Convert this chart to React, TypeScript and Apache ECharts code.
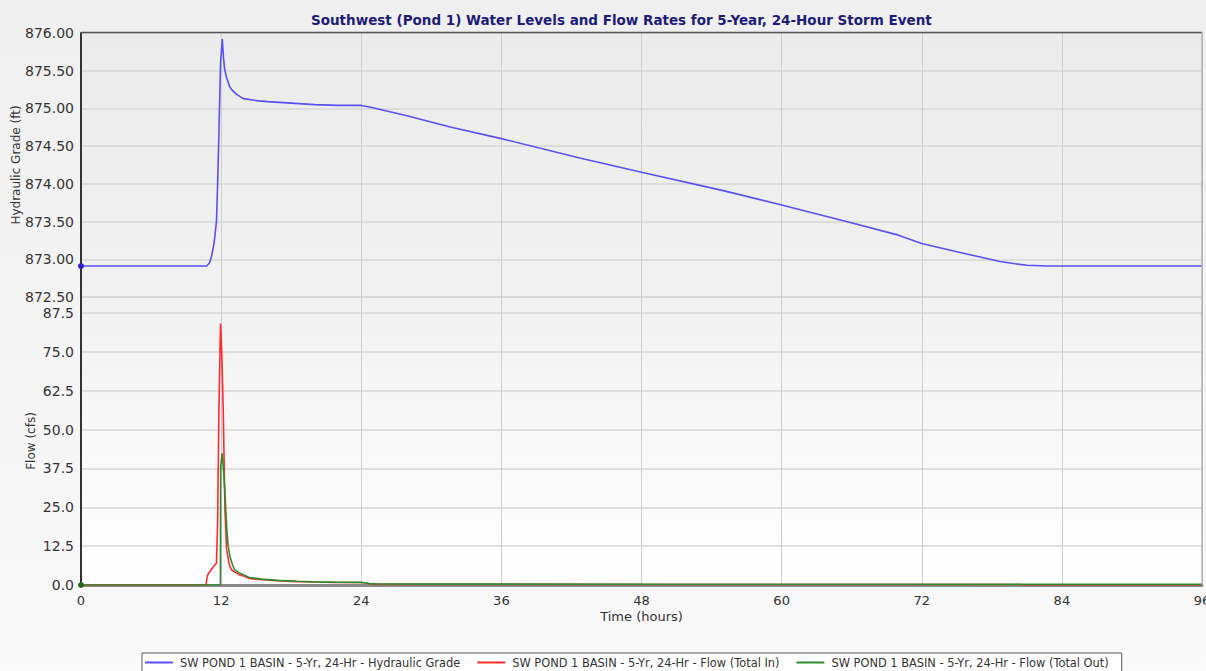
import React, { useEffect, useRef } from "react";
import * as echarts from "echarts";

const chartTitle = "Southwest (Pond 1) Water Levels and Flow Rates for 5-Year, 24-Hour Storm Event";
const seriesNames = [
  "SW POND 1 BASIN - 5-Yr, 24-Hr - Hydraulic Grade",
  "SW POND 1 BASIN - 5-Yr, 24-Hr - Flow (Total In)",
  "SW POND 1 BASIN - 5-Yr, 24-Hr - Flow (Total Out)",
];

// Hydraulic grade (ft) vs time (hours)
const hgTime = [0, 10.76, 11.0, 11.2, 11.4, 11.6, 11.7, 11.8, 11.95, 12.1, 12.2, 12.3, 12.45, 12.7, 12.9, 13.3, 13.9, 15.2, 16, 18, 20, 22, 24, 25, 28, 31.7, 36, 42.8, 48, 55, 60, 65.8, 70, 72, 75, 77, 78.7, 80, 81, 82.7, 96];
const hgLevel = [872.91, 872.91, 872.95, 873.05, 873.22, 873.5, 874.0, 874.6, 875.6, 875.92, 875.68, 875.52, 875.42, 875.3, 875.25, 875.19, 875.13, 875.1, 875.09, 875.07, 875.05, 875.04, 875.04, 875.01, 874.9, 874.75, 874.6, 874.34, 874.155, 873.91, 873.72, 873.49, 873.32, 873.21, 873.1, 873.03, 872.97, 872.94, 872.92, 872.91, 872.91];

// Flow (Total In), cfs
const inTime = [0, 10.7, 10.8, 10.9, 11.1, 11.33, 11.6, 11.7, 11.81, 11.95, 12.05, 12.18, 12.33, 12.47, 12.7, 12.9, 13.5, 14.04, 14.4, 15.5, 16.8, 18.5, 20, 21.7, 23.9, 24.3, 24.7, 25.5, 30, 50, 70, 80.5, 80.6, 96];
const inFlow = [0, 0, 2.5, 3.7, 4.6, 5.9, 7.0, 20, 56.3, 84.2, 75, 56.3, 24, 11.3, 6.5, 4.8, 3.4, 2.7, 2.1, 1.7, 1.4, 1.1, 0.95, 0.85, 0.8, 0.7, 0.4, 0.2, 0.2, 0.18, 0.16, 0.15, 0, 0];

// Flow (Total Out), cfs
const outTime = [0, 11.94, 11.96, 12.08, 12.2, 12.33, 12.47, 12.6, 12.76, 13.0, 13.18, 13.6, 14.04, 14.4, 15.5, 16.8, 18.5, 20, 21.7, 23.9, 24.3, 24.7, 25.5, 30, 50, 70, 85, 96];
const outFlow = [0, 0, 38, 42.4, 37, 29.5, 18.8, 12.5, 9.1, 6.2, 4.8, 3.8, 3.1, 2.4, 1.9, 1.5, 1.2, 1.0, 0.9, 0.85, 0.7, 0.45, 0.3, 0.28, 0.25, 0.22, 0.2, 0.2];

const xTicks = { min: 0, max: 96, interval: 12 };
const hgAxis = { min: 872.5, max: 876, interval: 0.5 };
const flowAxis = { min: 0, max: 92.7, interval: 12.5 };

const FONT = "DejaVu Sans";

function pairs(xs: number[], ys: number[], firstDot?: string) {
  return xs.map((x, i) =>
    i === 0 && firstDot
      ? { value: [x, ys[i]], symbol: "circle", symbolSize: 6, itemStyle: { color: firstDot } }
      : { value: [x, ys[i]], symbol: "none" }
  );
}

export default function App() {
  const ref = useRef<HTMLDivElement>(null);
  useEffect(() => {
    if (!ref.current) return;
    const chart = echarts.init(ref.current, undefined, { renderer: "svg" });
    const L = 81, R = 4, T = 33, MID = 297, B = 86;
    const splitH = { show: true, lineStyle: { color: "#d6d6d6", width: 1.5 } };
    const splitV = { show: true, lineStyle: { color: "#cfcfcf", width: 1 } };
    const yLabel = { color: "#333", fontFamily: FONT, fontSize: 14, margin: 7 };
    chart.setOption({
      animation: false,
      backgroundColor: {
        type: "linear", x: 0, y: 0, x2: 0, y2: 1,
        colorStops: [{ offset: 0, color: "#efefef" }, { offset: 1, color: "#f9f9f9" }],
      },
      title: {
        text: chartTitle,
        left: 306,
        top: 8,
        textStyle: { color: "#1c1c78", fontFamily: FONT, fontSize: 13.5, fontWeight: "bold" },
      },
      legend: {
        left: 142,
        top: 653,
        padding: [4, 13, 8, 3],
        backgroundColor: "#ffffff",
        borderColor: "#555",
        borderWidth: 1,
        itemGap: 17,
        itemWidth: 28,
        itemHeight: 2,
        icon: "rect",
        textStyle: { color: "#333", fontFamily: FONT, fontSize: 11.4, padding: [0, 0, 0, 2] },
        data: seriesNames,
      },
      grid: [
        {
          left: L, right: R, top: T, height: MID - T, show: true, borderWidth: 0,
          containLabel: false, outerBoundsMode: "none",
          backgroundColor: {
            type: "linear", x: 0, y: 0, x2: 0, y2: 1,
            colorStops: [{ offset: 0, color: "#ebebeb" }, { offset: 1, color: "#f1f1f1" }],
          },
        },
        {
          left: L, right: R, top: MID, bottom: B, show: true, borderWidth: 0,
          containLabel: false, outerBoundsMode: "none",
          backgroundColor: {
            type: "linear", x: 0, y: 0, x2: 0, y2: 1,
            colorStops: [{ offset: 0, color: "#f1f1f1" }, { offset: 1, color: "#ffffff" }],
          },
        },
      ],
      xAxis: [
        {
          type: "value", gridIndex: 0, ...xTicks,
          axisLine: { show: false }, axisTick: { show: false }, axisLabel: { show: false },
          splitLine: splitV,
        },
        {
          type: "value", gridIndex: 1, ...xTicks,
          axisLine: { show: true, onZero: false, lineStyle: { color: "#8a8a8a", width: 3 } },
          axisTick: { show: false },
          axisLabel: { color: "#333", fontFamily: FONT, fontSize: 13, margin: 9, alignMaxLabel: "center", hideOverlap: false },
          splitLine: splitV,
          name: "Time (hours)",
          nameLocation: "middle",
          nameGap: 25,
          nameMoveOverlap: false,
          nameTextStyle: { color: "#333", fontFamily: FONT, fontSize: 13 },
        },
      ],
      yAxis: [
        {
          type: "value", gridIndex: 0, ...hgAxis,
          axisLine: { show: true, lineStyle: { color: "#333", width: 2 } },
          axisTick: { show: false },
          axisLabel: { ...yLabel, formatter: (v: number) => v.toFixed(2) },
          splitLine: splitH,
          name: "Hydraulic Grade (ft)",
          nameLocation: "middle",
          nameGap: 59,
          nameMoveOverlap: false,
          nameTextStyle: { color: "#333", fontFamily: FONT, fontSize: 12 },
        },
        {
          type: "value", gridIndex: 1, ...flowAxis,
          axisLine: { show: true, lineStyle: { color: "#333", width: 2 } },
          axisTick: { show: false },
          axisLabel: {
            ...yLabel,
            showMaxLabel: false,
            formatter: (v: number) => {
              const k = v / flowAxis.interval;
              return Math.abs(k - Math.round(k)) < 1e-6 ? v.toFixed(1) : "";
            },
          },
          splitLine: splitH,
          name: "Flow (cfs)",
          nameLocation: "middle",
          nameGap: 44,
          nameMoveOverlap: false,
          nameTextStyle: { color: "#333", fontFamily: FONT, fontSize: 12 },
        },
      ],
      graphic: [
        { type: "line", shape: { x1: L, y1: 32.5, x2: 1202, y2: 32.5 }, style: { stroke: "#555", lineWidth: 1.5 }, z: 10 },
        { type: "line", shape: { x1: 1202, y1: 32, x2: 1202, y2: 586 }, style: { stroke: "#999", lineWidth: 1 }, z: 10 },
      ],
      series: [
        {
          name: seriesNames[0], type: "line", xAxisIndex: 0, yAxisIndex: 0,
          showSymbol: true, symbol: "none", color: "#5a4ff2",
          lineStyle: { color: "#5a4ff2", width: 1.6 },
          data: pairs(hgTime, hgLevel, "#2a20d0"),
          z: 3,
        },
        {
          name: seriesNames[1], type: "line", xAxisIndex: 1, yAxisIndex: 1,
          showSymbol: true, symbol: "none", color: "#ff2a2a",
          lineStyle: { color: "#ff2a2a", width: 1.6 },
          data: pairs(inTime, inFlow),
          z: 3,
        },
        {
          name: seriesNames[2], type: "line", xAxisIndex: 1, yAxisIndex: 1,
          showSymbol: true, symbol: "none", color: "#2e8b2e",
          lineStyle: { color: "#2e8b2e", width: 1.6 },
          data: pairs(outTime, outFlow, "#1f6a1f"),
          z: 4,
        },
      ],
    });
    return () => chart.dispose();
  }, []);
  return (
    <div
      ref={ref}
      style={{ position: "absolute", left: 0, top: 0, width: 1206, height: 671 }}
    />
  );
}
